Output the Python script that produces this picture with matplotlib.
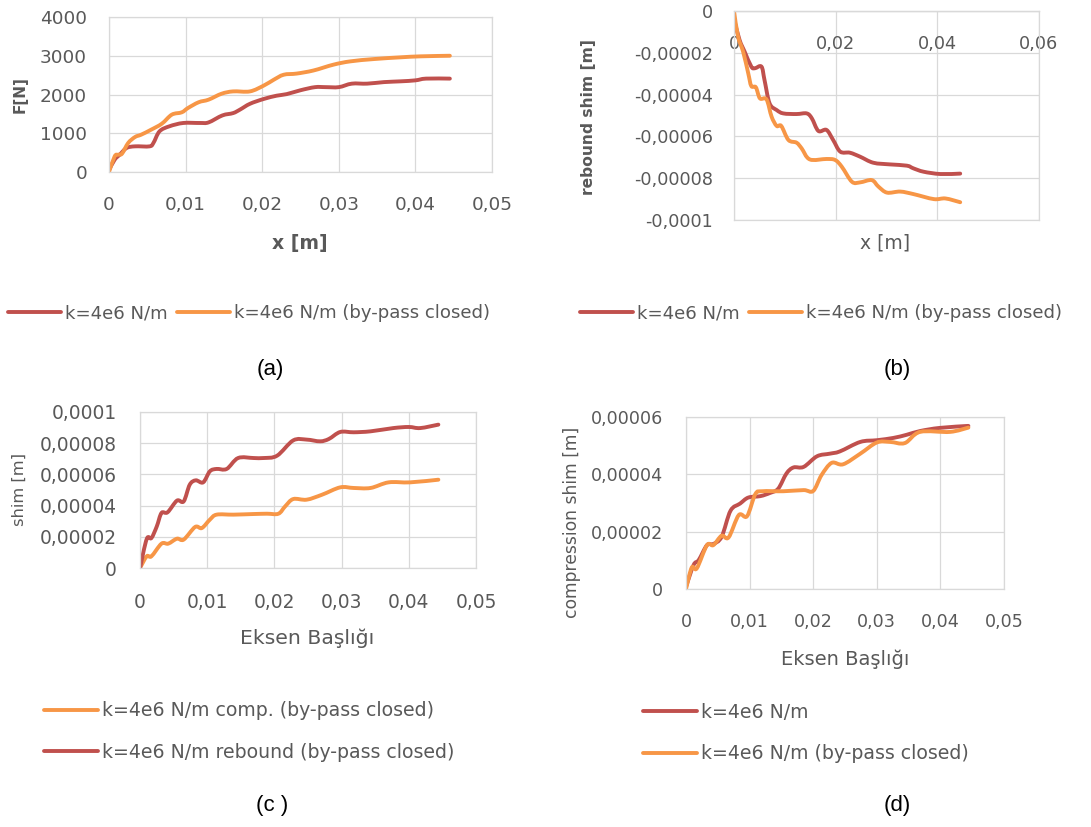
import numpy as np
import matplotlib.pyplot as plt
from matplotlib.ticker import FuncFormatter, MultipleLocator
from matplotlib.path import Path
from matplotlib.patches import PathPatch
from matplotlib.lines import Line2D

plt.rcParams['font.family'] = ['DejaVu Sans']
plt.rcParams['axes.unicode_minus'] = False

RED = '#C0504D'
ORANGE = '#F79646'
GRID = '#D9D9D9'
TXT = '#595959'

# (a) force vs displacement
a_red_x = [0, 0.00074, 0.0014, 0.0023, 0.0034, 0.0053, 0.0058, 0.0066, 0.0079, 0.0097,
           0.0119, 0.013, 0.0148, 0.0162, 0.0171, 0.0184, 0.0202, 0.0219, 0.0232, 0.025,
           0.0269, 0.0283, 0.030, 0.0317, 0.0337, 0.0359, 0.0381, 0.040, 0.0414, 0.0445]
a_red_y = [50, 318, 447, 620, 662, 662, 750, 1050, 1180, 1265,
           1265, 1280, 1460, 1520, 1610, 1760, 1885, 1970, 2010, 2110,
           2190, 2190, 2190, 2280, 2280, 2320, 2340, 2365, 2410, 2410]
a_org_x = [0, 0.00074, 0.0012, 0.0017, 0.0025, 0.0034, 0.0042, 0.0055, 0.0069, 0.0082,
           0.0095, 0.0103, 0.0117, 0.013, 0.0147, 0.0162, 0.0184, 0.0202, 0.0215, 0.0228,
           0.0245, 0.0267, 0.0293, 0.0315, 0.0346, 0.0381, 0.0407, 0.0445]
a_org_y = [0, 404, 447, 473, 748, 903, 963, 1092, 1247, 1480,
           1540, 1650, 1800, 1867, 2020, 2080, 2080, 2230, 2380, 2510,
           2540, 2620, 2770, 2855, 2915, 2960, 2985, 3000]

# (b) rebound shim
b_red_x = [0, 0.0011, 0.0021, 0.0034, 0.0041, 0.0054, 0.006, 0.007, 0.0084, 0.0097,
           0.0123, 0.0143, 0.0153, 0.0166, 0.0182, 0.0195, 0.0209, 0.0228, 0.0248, 0.0274,
           0.0307, 0.034, 0.0353, 0.0373, 0.0406, 0.0445]
b_red_y = [-0.000004, -0.0000139, -0.0000195, -0.0000266, -0.0000274, -0.0000266, -0.000033,
           -0.0000442, -0.0000474, -0.000049, -0.0000493, -0.000049, -0.0000513, -0.0000574,
           -0.0000569, -0.0000617, -0.0000673, -0.0000678, -0.0000697, -0.0000726,
           -0.0000734, -0.000074, -0.0000753, -0.0000769, -0.000078, -0.0000778]
b_org_x = [0, 0.0008, 0.0018, 0.0028, 0.0034, 0.0043, 0.0051, 0.0064, 0.0074, 0.0084,
           0.0093, 0.0107, 0.0123, 0.0133, 0.0149, 0.0182, 0.0199, 0.0212, 0.0232, 0.0248,
           0.0271, 0.0284, 0.0301, 0.0327, 0.0353, 0.0393, 0.0416, 0.0445]
b_org_y = [0, -0.0000123, -0.0000195, -0.0000298, -0.0000359, -0.0000365, -0.0000418,
           -0.0000423, -0.0000506, -0.000055, -0.000055, -0.0000617, -0.000063, -0.0000657,
           -0.000071, -0.0000708, -0.0000713, -0.0000745, -0.0000817, -0.000082,
           -0.0000809, -0.000084, -0.0000869, -0.0000864, -0.0000876, -0.00009,
           -0.0000897, -0.0000915]

# (c) shim, comp. and rebound
c_org_x = [0, 0.001, 0.0017, 0.0032, 0.0042, 0.0055, 0.0065, 0.0082, 0.0092, 0.0104,
           0.0114, 0.0139, 0.0169, 0.0189, 0.0206, 0.0216, 0.0228, 0.0248, 0.0271, 0.0298,
           0.0318, 0.0343, 0.037, 0.0402, 0.0444]
c_org_y = [0, 0.0000075, 0.0000075, 0.0000156, 0.0000156, 0.0000188, 0.0000182, 0.0000263,
           0.0000256, 0.000031, 0.0000342, 0.0000342, 0.0000346, 0.0000348, 0.0000348,
           0.0000395, 0.0000442, 0.0000438, 0.000047, 0.0000517, 0.0000513, 0.0000513,
           0.0000549, 0.0000549, 0.0000566]
c_red_x = [0, 0.001, 0.0017, 0.0025, 0.0032, 0.0041, 0.0055, 0.0065, 0.0074, 0.0083,
           0.0094, 0.0104, 0.0114, 0.0129, 0.0146, 0.0169, 0.0184, 0.0204, 0.0228, 0.0248,
           0.0268, 0.0281, 0.0298, 0.0318, 0.0343, 0.0377, 0.040, 0.0417, 0.0444]
c_red_y = [0, 0.0000186, 0.0000192, 0.0000267, 0.0000353, 0.0000357, 0.0000432, 0.0000427,
           0.0000534, 0.0000562, 0.0000549, 0.000062, 0.0000635, 0.0000635, 0.0000705,
           0.0000705, 0.0000705, 0.000072, 0.0000818, 0.0000823, 0.0000812, 0.0000827,
           0.0000872, 0.000087, 0.0000876, 0.0000897, 0.0000904, 0.0000897, 0.0000919]

# (d) compression shim
d_red_x = [0, 0.0012, 0.002, 0.0033, 0.0043, 0.0056, 0.007, 0.0085, 0.0098, 0.0117,
           0.0132, 0.0145, 0.0158, 0.0169, 0.0185, 0.0206, 0.0226, 0.0242, 0.0274, 0.030,
           0.0326, 0.0347, 0.0368, 0.0399, 0.0444]
d_red_y = [0.0000008, 0.0000084, 0.0000101, 0.0000153, 0.0000157, 0.0000182, 0.0000273,
           0.0000298, 0.0000319, 0.0000324, 0.0000335, 0.000035, 0.0000403, 0.0000424,
           0.0000426, 0.0000463, 0.0000472, 0.000048, 0.0000513, 0.0000519, 0.0000527,
           0.0000538, 0.0000551, 0.0000562, 0.0000569]
d_org_x = [0, 0.0009, 0.0017, 0.0033, 0.0043, 0.0056, 0.0067, 0.0083, 0.0096, 0.0109,
           0.012, 0.0153, 0.0185, 0.020, 0.0213, 0.0229, 0.0247, 0.0274, 0.030, 0.0321,
           0.0344, 0.0368, 0.0415, 0.0444]
d_org_y = [0, 0.0000075, 0.0000072, 0.0000153, 0.0000153, 0.0000186, 0.000018, 0.0000258,
           0.0000254, 0.0000331, 0.0000341, 0.0000341, 0.0000345, 0.0000342, 0.0000397,
           0.000044, 0.0000435, 0.0000472, 0.0000511, 0.0000513, 0.0000509, 0.0000548,
           0.0000548, 0.0000563]

W, H = 1091, 827
LW = 2.8


def comma(v, pos=None):
    if abs(v) < 1e-12:
        return '0'
    s = f'{v:.5f}'.rstrip('0').rstrip('.')
    return s.replace('.', ',')


def make_axes(fig, l, t, r, b, tsize, ypad, xpad):
    ax = fig.add_axes([l / W, 1 - b / H, (r - l) / W, (b - t) / H])
    ax.grid(True, color=GRID, lw=0.9)
    ax.set_axisbelow(True)
    for sp in ax.spines.values():
        sp.set_color(GRID)
        sp.set_linewidth(0.9)
    ax.tick_params(length=0, labelsize=tsize, labelcolor=TXT)
    ax.tick_params(axis='y', pad=ypad)
    ax.tick_params(axis='x', pad=xpad)
    ax.xaxis.set_major_formatter(FuncFormatter(comma))
    ax.yaxis.set_major_formatter(FuncFormatter(comma))
    return ax


def smooth_line(ax, xs, ys, color):
    # excel-style smoothed line: bezier through the points (catmull-rom handles)
    p = np.column_stack([xs, ys]).astype(float)
    ext = np.vstack([p[0], p, p[-1]])
    verts = [p[0]]
    codes = [Path.MOVETO]
    for i in range(len(p) - 1):
        c1 = ext[i + 1] + (ext[i + 2] - ext[i]) / 6
        c2 = ext[i + 2] - (ext[i + 3] - ext[i + 1]) / 6
        verts += [c1, c2, p[i + 1]]
        codes += [Path.CURVE4] * 3
    ax.add_patch(PathPatch(Path(verts, codes), fill=False, ec=color, lw=LW,
                           capstyle='round', joinstyle='round'))
    return Line2D([], [], color=color, lw=LW, solid_capstyle='round')


def ftext(fig, x, y, s, **kw):
    fig.text(x / W, 1 - y / H, s, ha='center', va='center', **kw)


fig = plt.figure(figsize=(W / 100, H / 100), dpi=100)
leg_row = dict(ncol=2, frameon=False, fontsize=13.1, handlelength=2.9, handletextpad=0.22,
               columnspacing=0.55, borderpad=0, borderaxespad=0, labelcolor=TXT,
               loc='center left', bbox_transform=fig.transFigure)
leg_col = dict(ncol=1, frameon=False, fontsize=13.6, handlelength=2.85, handletextpad=0.22,
               labelspacing=1.2, borderpad=0, borderaxespad=0, labelcolor=TXT,
               loc='center left', bbox_transform=fig.transFigure)

# (a)
ax = make_axes(fig, 109, 17, 492, 172, 13.3, 15.8, 17.5)
h1 = smooth_line(ax, a_red_x, a_red_y, RED)
h2 = smooth_line(ax, a_org_x, a_org_y, ORANGE)
ax.set_xlim(0, 0.05)
ax.set_ylim(0, 4000)
ax.xaxis.set_major_locator(MultipleLocator(0.01))
ax.yaxis.set_major_locator(MultipleLocator(1000))
ax.legend([h1, h2], ['k=4e6 N/m', 'k=4e6 N/m (by-pass closed)'],
          bbox_to_anchor=(8 / W, 1 - 313 / H), **leg_row)
ftext(fig, 300, 243, 'x [m]', fontsize=13.6, fontweight='bold', color=TXT)
ftext(fig, 20, 95, 'F[N]', fontsize=11, fontweight='bold', color=TXT, rotation=90)

# (b)
ax = make_axes(fig, 734, 11, 1039, 220, 12.7, 15, 17.5)
h1 = smooth_line(ax, b_red_x, b_red_y, RED)
h2 = smooth_line(ax, b_org_x, b_org_y, ORANGE)
ax.set_xlim(0, 0.06)
ax.set_ylim(-0.0001, 0)
ax.xaxis.set_major_locator(MultipleLocator(0.02))
ax.yaxis.set_major_locator(MultipleLocator(0.00002))
ax.spines['bottom'].set_position(('data', 0))
ax.axhline(-0.0001, color=GRID, lw=0.9, clip_on=False, zorder=0.5)
ax.legend([h1, h2], ['k=4e6 N/m', 'k=4e6 N/m (by-pass closed)'],
          bbox_to_anchor=(580 / W, 1 - 313 / H), **leg_row)
ftext(fig, 885, 243, 'x [m]', fontsize=13.5, color=TXT)
ftext(fig, 589, 117, 'rebound shim [m]', fontsize=11.2, fontweight='bold', color=TXT, rotation=90)

# (c)
ax = make_axes(fig, 140, 412, 476, 568, 13.4, 16.5, 18)
h1 = smooth_line(ax, c_org_x, c_org_y, ORANGE)
h2 = smooth_line(ax, c_red_x, c_red_y, RED)
ax.set_xlim(0, 0.05)
ax.set_ylim(0, 0.0001)
ax.xaxis.set_major_locator(MultipleLocator(0.01))
ax.yaxis.set_major_locator(MultipleLocator(0.00002))
ax.legend([h1, h2], ['k=4e6 N/m comp. (by-pass closed)', 'k=4e6 N/m rebound (by-pass closed)'],
          bbox_to_anchor=(44 / W, 1 - 731.5 / H), **leg_col)
ftext(fig, 307, 638, 'Eksen Başlığı', fontsize=14.7, color=TXT)
ftext(fig, 19, 490, 'shim [m]', fontsize=11.7, color=TXT, rotation=90)

# (d)
ax = make_axes(fig, 686, 417, 1004, 589, 12.6, 16.5, 17)
h1 = smooth_line(ax, d_red_x, d_red_y, RED)
h2 = smooth_line(ax, d_org_x, d_org_y, ORANGE)
ax.set_xlim(0, 0.05)
ax.set_ylim(0, 0.00006)
ax.xaxis.set_major_locator(MultipleLocator(0.01))
ax.yaxis.set_major_locator(MultipleLocator(0.00002))
ax.legend([h1, h2], ['k=4e6 N/m', 'k=4e6 N/m (by-pass closed)'],
          bbox_to_anchor=(643 / W, 1 - 733 / H), **leg_col)
ftext(fig, 845, 659, 'Eksen Başlığı', fontsize=14, color=TXT)
ftext(fig, 572, 522, 'compression shim [m]', fontsize=12.3, color=TXT, rotation=90)

# panel letters
for x, y, s in [(270, 369, '(a)'), (897, 369, '(b)'), (272, 805, '(c )'), (897, 805, '(d)')]:
    ftext(fig, x, y, s, fontsize=16, family='Liberation Sans', color='black')

fig.savefig('out.png', dpi=100)
